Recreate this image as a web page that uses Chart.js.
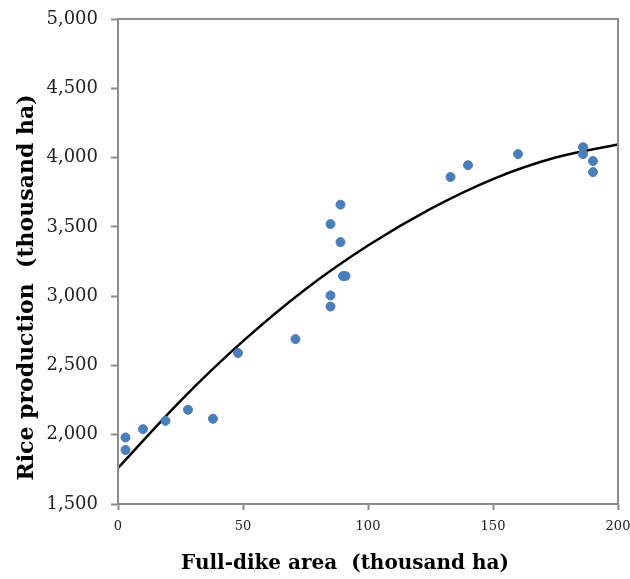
<!DOCTYPE html>
<html>
<head>
<meta charset="utf-8">
<script src="https://cdn.jsdelivr.net/npm/chart.js@4"></script>
<style>
  html, body { margin: 0; padding: 0; background: #fff; }
  #wrap { width: 630px; height: 579px; }
</style>
</head>
<body>
<div id="wrap"><canvas id="chart" width="630" height="579"></canvas></div>
<script>
// full-dike area (thousand ha) vs rice production
const areaX = [3, 3, 10, 19, 28, 38, 48, 71, 85, 85, 85, 89, 89, 90, 91, 133, 140, 160, 186, 186, 190, 190];
const riceY = [1980, 1890, 2040, 2100, 2180, 2115, 2590, 2690, 3520, 3005, 2925, 3660, 3390, 3145, 3145, 3860, 3945, 4025, 4075, 4025, 3975, 3895];

// trend curve
const trendX = [0, 25, 50, 75, 100, 125, 150, 175, 200];
const trendY = [1760, 2245, 2675, 3050, 3365, 3630, 3845, 4000, 4095];

const xTicks = [0, 50, 100, 150, 200];
const yTicks = [1500, 2000, 2500, 3000, 3500, 4000, 4500, 5000];

const xTitle = 'Full-dike area  (thousand ha)';
const yTitle = 'Rice production  (thousand ha)';

const axisGray = '#8c8c8c';
const serif = "'DejaVu Serif', 'Liberation Serif', serif";

// box around the plot area + the two axis titles
const frame = {
  id: 'frame',
  afterDraw(chart) {
    const { ctx, chartArea: a } = chart;
    ctx.save();
    ctx.strokeStyle = axisGray;
    ctx.lineWidth = 2;
    ctx.strokeRect(a.left, a.top, a.right - a.left, a.bottom - a.top);

    ctx.fillStyle = '#000';
    ctx.textAlign = 'center';
    ctx.textBaseline = 'middle';
    ctx.font = 'bold 20px ' + serif;
    ctx.fillText(xTitle, (a.left + a.right) / 2 - 23, 564);

    ctx.font = 'bold 22px ' + serif;
    ctx.translate(27, (a.top + a.bottom) / 2 + 26);
    ctx.rotate(-Math.PI / 2);
    ctx.fillText(yTitle, 0, 0);
    ctx.restore();
  }
};

const ctx = document.getElementById('chart').getContext('2d');

new Chart(ctx, {
  type: 'scatter',
  data: {
    datasets: [
      {
        label: 'Observed',
        data: areaX.map((x, i) => ({ x: x, y: riceY[i] })),
        backgroundColor: '#4a7ebb',
        borderColor: '#4a7ebb',
        pointRadius: 4.5,
        order: 0
      },
      {
        label: 'Trend',
        data: trendX.map((x, i) => ({ x: x, y: trendY[i] })),
        showLine: true,
        borderColor: '#000',
        borderWidth: 2.5,
        pointRadius: 0,
        cubicInterpolationMode: 'monotone',
        order: 1
      }
    ]
  },
  options: {
    responsive: false,
    animation: false,
    layout: { padding: { top: 19, right: 12, left: 0, bottom: 0 } },
    plugins: {
      legend: { display: false },
      tooltip: { enabled: false }
    },
    scales: {
      x: {
        type: 'linear',
        min: 0,
        max: 200,
        afterBuildTicks: s => { s.ticks = xTicks.map(v => ({ value: v })); },
        afterFit: s => { s.height = 75; s.paddingLeft = 0; s.paddingRight = 0; },
        border: { color: axisGray, width: 2 },
        grid: { drawOnChartArea: false, color: axisGray, tickLength: 6, tickWidth: 2 },
        ticks: { color: '#222', padding: 9, font: { family: serif, size: 13 } }
      },
      y: {
        type: 'linear',
        min: 1500,
        max: 5000,
        afterBuildTicks: s => { s.ticks = yTicks.map(v => ({ value: v })); },
        afterFit: s => { s.width = 118; s.paddingTop = 0; s.paddingBottom = 0; },
        border: { color: axisGray, width: 2 },
        grid: { drawOnChartArea: false, color: axisGray, tickLength: 7, tickWidth: 2 },
        ticks: {
          color: '#222',
          padding: 13,
          font: { family: serif, size: 18 },
          callback: v => v.toLocaleString('en-US')
        }
      }
    }
  },
  plugins: [frame]
});
</script>
</body>
</html>
